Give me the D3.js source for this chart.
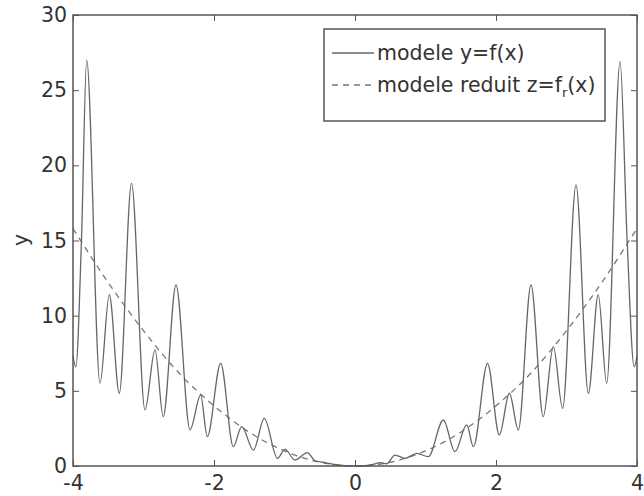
<!DOCTYPE html>
<html>
<head>
<meta charset="utf-8">
<script src="https://cdn.jsdelivr.net/npm/d3@7"></script>
<style>
  body { margin: 0; background: #fff; }
  text { font-family: "DejaVu Sans", sans-serif; fill: #333; }
</style>
</head>
<body>
<svg width="644" height="496"></svg>
<script>
// points : modele y=f(x)
const xModel = [-4, -3.96, -3.88, -3.806, -3.617, -3.485, -3.343, -3.17, -2.979, -2.837, -2.72,
  -2.539, -2.34, -2.19, -2.095, -1.905, -1.726, -1.607, -1.44, -1.287, -1.10, -0.993, -0.85,
  -0.677, -0.567, -0.45, -0.3, -0.15, 0, 0.15, 0.255, 0.355, 0.45, 0.567, 0.709, 0.875, 1.04,
  1.253, 1.418, 1.584, 1.68, 1.88, 2.047, 2.19, 2.317, 2.496, 2.67, 2.813, 2.945, 3.135, 3.31,
  3.45, 3.57, 3.76, 3.86, 3.96, 4];
const yModel = [7.3, 6.6, 15, 27, 5.5, 11.4, 4.84, 18.8, 3.73, 7.72, 3.28,
  12.04, 2.4, 4.72, 1.95, 6.83, 1.29, 2.62, 1.06, 3.17, 0.51, 1.1, 0.4,
  0.89, 0.35, 0.25, 0.1, 0.03, 0.01, 0.03, 0.1, 0.22, 0.15, 0.73, 0.51, 0.84, 0.62,
  3.06, 0.95, 2.73, 1.29, 6.83, 2.06, 4.84, 2.4, 12.04, 3.28, 7.94, 3.84, 18.7, 4.84,
  11.4, 5.5, 26.9, 15, 6.6, 7.3];

// modele reduit z=fr(x)
const xReduit = [-4, -3.5, -3, -2.5, -2, -1.5, -1, -0.5, 0, 0.5, 1, 1.5, 2, 2.5, 3, 3.5, 4];
const zReduit = [15.8, 12.2, 9, 6.2, 4, 2.25, 1, 0.25, 0, 0.25, 1, 2.25, 4, 6.2, 9, 12.2, 15.8];

const xTicks = [-4, -2, 0, 2, 4];
const yTicks = [0, 5, 10, 15, 20, 25, 30];

const svg = d3.select("svg");
const width = +svg.attr("width");
const height = +svg.attr("height");
const margin = {left: 73, top: 15, right: 7, bottom: 30};
const w = width - margin.left - margin.right;
const h = height - margin.top - margin.bottom;

const x = d3.scaleLinear().domain([-4, 4]).range([0, w]);
const y = d3.scaleLinear().domain([0, 30]).range([h, 0]);

const g = svg.append("g").attr("transform", `translate(${margin.left},${margin.top})`);

const fmt = d => String(d);
const axisColor = "#555";

// axes avec graduations vers l'interieur
const axB = g.append("g").attr("transform", `translate(0,${h})`)
  .call(d3.axisBottom(x).tickValues(xTicks).tickFormat(fmt).tickSize(-6).tickPadding(9));
const axL = g.append("g")
  .call(d3.axisLeft(y).tickValues(yTicks).tickFormat(fmt).tickSize(-6).tickPadding(6));
const axT = g.append("g")
  .call(d3.axisTop(x).tickValues(xTicks).tickFormat("").tickSize(-6));
const axR = g.append("g").attr("transform", `translate(${w},0)`)
  .call(d3.axisRight(y).tickValues(yTicks).tickFormat("").tickSize(-6));

[axB, axL, axT, axR].forEach(a => {
  a.select(".domain").remove();
  a.selectAll("line").attr("stroke", axisColor).attr("stroke-width", 1);
  a.selectAll("text").style("font-size", "20.5px").attr("fill", "#333");
});

// courbes
const lineModel = d3.line()
  .x((d, i) => x(xModel[i]))
  .y(d => y(d))
  .curve(d3.curveMonotoneX);
const lineReduit = d3.line()
  .x((d, i) => x(xReduit[i]))
  .y(d => y(d))
  .curve(d3.curveMonotoneX);

g.append("path")
  .attr("d", lineReduit(zReduit))
  .attr("fill", "none")
  .attr("stroke", "#777")
  .attr("stroke-width", 1.3)
  .attr("stroke-dasharray", "6,5");

g.append("path")
  .attr("d", lineModel(yModel))
  .attr("fill", "none")
  .attr("stroke", "#666")
  .attr("stroke-width", 1.3);

// cadre
g.append("rect")
  .attr("width", w).attr("height", h)
  .attr("fill", "none")
  .attr("stroke", axisColor)
  .attr("stroke-width", 1.5);

// label y
svg.append("text")
  .attr("transform", "translate(28,240) rotate(-90)")
  .attr("text-anchor", "middle")
  .style("font-size", "20.5px")
  .text("y");

// legende
const leg = svg.append("g");
leg.append("rect")
  .attr("x", 324).attr("y", 29).attr("width", 281).attr("height", 92)
  .attr("fill", "#fff")
  .attr("stroke", axisColor)
  .attr("stroke-width", 1.5);

leg.append("line")
  .attr("x1", 332).attr("x2", 374).attr("y1", 53).attr("y2", 53)
  .attr("stroke", "#666").attr("stroke-width", 1.3);
leg.append("line")
  .attr("x1", 332).attr("x2", 374).attr("y1", 85).attr("y2", 85)
  .attr("stroke", "#777").attr("stroke-width", 1.3)
  .attr("stroke-dasharray", "6,5");

leg.append("text")
  .attr("x", 377).attr("y", 60)
  .style("font-size", "20.5px")
  .text("modele y=f(x)");

const t2 = leg.append("text")
  .attr("x", 377).attr("y", 92)
  .style("font-size", "20.5px");
t2.append("tspan").text("modele reduit z=f");
t2.append("tspan").attr("dy", 5).style("font-size", "13px").text("r");
t2.append("tspan").attr("dy", -5).text("(x)");
</script>
</body>
</html>
